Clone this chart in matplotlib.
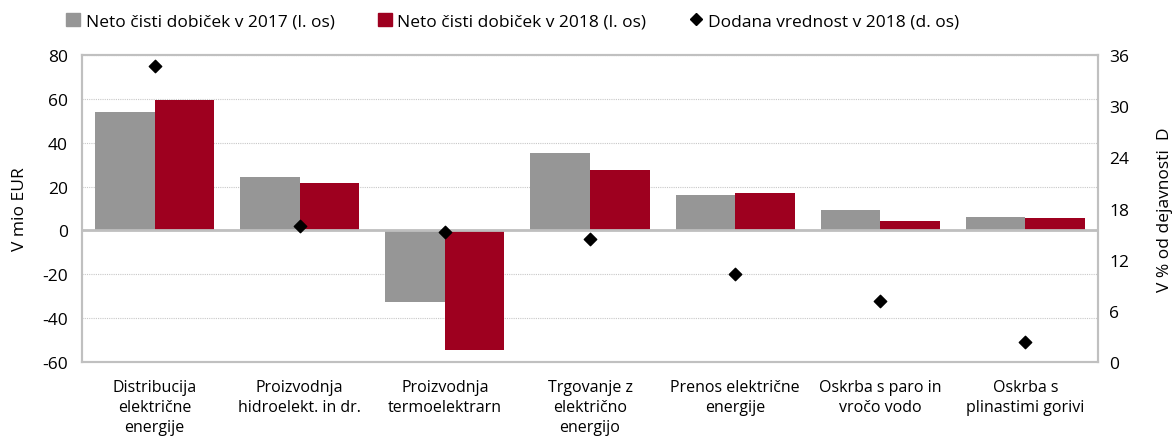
import numpy as np
import matplotlib
matplotlib.use("Agg")
import matplotlib.pyplot as plt
from matplotlib.lines import Line2D
from matplotlib.patches import Patch

plt.rcParams['font.family'] = ['Open Sans', 'DejaVu Sans']
plt.rcParams['axes.unicode_minus'] = False

categories = ["Distribucija\nelektrične\nenergije", "Proizvodnja\nhidroelekt. in dr.",
              "Proizvodnja\ntermoelektrarn", "Trgovanje z\nelektrično\nenergijo",
              "Prenos električne\nenergije", "Oskrba s paro in\nvročo vodo",
              "Oskrba s\nplinastimi gorivi"]
profit_2017 = [54.1, 24.4, -32.7, 35.2, 16.3, 9.1, 6.3]
profit_2018 = [59.3, 21.8, -54.7, 27.6, 17.1, 4.3, 5.5]
value_added_2018 = [34.7, 16.0, 15.3, 14.4, 10.3, 7.2, 2.4]

grey = '#969696'
red = '#9E001F'

fig = plt.figure(figsize=(11.75, 4.39), dpi=100)
ax = fig.add_axes([82/1175, 1-363/439, (1098-82)/1175, (363-56)/439])
ax2 = ax.twinx()

x = np.arange(len(categories))
w = 0.41
ax.bar(x - w/2, profit_2017, w, color=grey, zorder=3)
ax.bar(x + w/2, profit_2018, w, color=red, zorder=3)
ax2.scatter(x, value_added_2018, marker='D', s=40, color='black', zorder=5)

ax.set_xlim(-0.5, len(categories) - 0.5)
ax.set_ylim(-60, 80)
ax.set_yticks(range(-60, 81, 20))
ax2.set_ylim(0, 36)
ax2.set_yticks(range(0, 37, 6))
ax.set_xticks(x)
ax.set_xticklabels(categories, fontsize=11.5, linespacing=1.33)
ax.tick_params(axis='x', length=0, pad=12)
ax.tick_params(axis='y', length=0, labelsize=12.5, pad=10)
ax2.tick_params(axis='y', length=0, labelsize=12.5, pad=8)

ax.grid(axis='y', color='#C8C8C8', linestyle=(0, (1, 1)), linewidth=0.8, zorder=0)
ax.axhline(0, color='#BFBFBF', linewidth=2, zorder=4)
for a in (ax, ax2):
    for s in a.spines.values():
        s.set_color('#C0C0C0')
        s.set_linewidth(1.5)

ax.set_ylabel('V mio EUR', fontsize=12.5, labelpad=10)
ax2.set_ylabel('V % od dejavnosti  D', fontsize=12.5, labelpad=20)

handles = [Patch(color=grey), Patch(color=red),
           Line2D([], [], marker='D', color='black', linestyle='none', markersize=6)]
labels = ['Neto čisti dobiček v 2017 (l. os)', 'Neto čisti dobiček v 2018 (l. os)',
          'Dodana vrednost v 2018 (d. os)']
fig.legend(handles, labels, loc='center', bbox_to_anchor=(513/1175, 1-22/439), ncol=3,
           frameon=False, fontsize=12.5, handlelength=0.8, handleheight=0.8,
           handletextpad=0.3, columnspacing=2.5)

fig.savefig('out.png', dpi=100)
